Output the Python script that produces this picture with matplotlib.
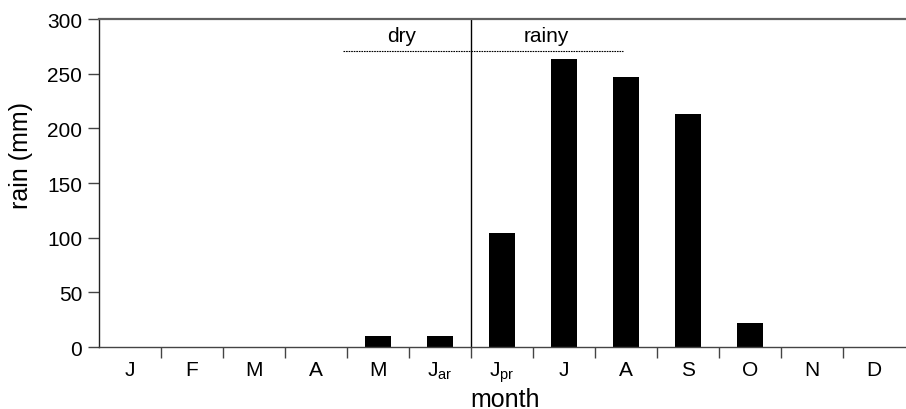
import numpy as np
import matplotlib
matplotlib.use('Agg')
import matplotlib.pyplot as plt

plt.rcParams['font.family'] = ['Liberation Sans', 'DejaVu Sans']
plt.rcParams['mathtext.fontset'] = 'custom'
plt.rcParams['mathtext.rm'] = 'Liberation Sans'

# monthly rain data
months = ['J', 'F', 'M', 'A', 'M', r'J$_{\mathrm{ar}}$', r'J$_{\mathrm{pr}}$',
          'J', 'A', 'S', 'O', 'N', 'D']
rain = [0, 0, 0, 0, 10, 10, 104, 263, 247, 213, 22, 0, 0]

season_labels = ['dry', 'rainy']

fig = plt.figure(figsize=(9.06, 4.10), dpi=100)
ax = fig.add_axes([0.1093, 0.1512, 0.8897, 0.8000])

x = np.arange(len(months))
ax.bar(x, rain, width=0.41, color='black')

ax.set_xlim(-0.5, len(months) - 0.5)
ax.set_ylim(0, 300)
ax.set_yticks([0, 50, 100, 150, 200, 250, 300])

# ticks between categories, labels at centres
ax.set_xticks(np.arange(0.5, len(months) - 0.5, 1))
ax.set_xticklabels([])
ax.set_xticks(x, minor=True)
ax.set_xticklabels(months, minor=True)
ax.tick_params(axis='x', which='minor', length=0, pad=9)
ax.tick_params(axis='x', which='major', length=8, width=1, color='#444444')
ax.tick_params(axis='y', length=8, width=1, color='#444444', pad=4)
ax.tick_params(which='both', labelsize=15)

ax.spines['right'].set_visible(False)
ax.spines['top'].set_color('#606060')
ax.spines['top'].set_linewidth(1.6)
ax.spines['left'].set_color('#222222')
ax.spines['bottom'].set_color('#444444')
ax.spines['left'].set_linewidth(1.0)
ax.spines['bottom'].set_linewidth(1.0)

# season divider
ax.axvline(5.5, color='black', lw=1.0)
ax.plot([3.43, 7.95], [271, 271], color='black', lw=0.8, ls=(0, (1.5, 0.8)))
ax.text(4.38, 276, season_labels[0], ha='center', va='bottom', fontsize=15)
ax.text(6.72, 276, season_labels[1], ha='center', va='bottom', fontsize=15)

ax.set_ylabel('rain (mm)', fontsize=18)
ax.yaxis.set_label_coords(-0.082, 0.588)
ax.set_xlabel('month', fontsize=18)
ax.xaxis.set_label_coords(0.504, -0.122)

fig.savefig('out.png', dpi=100)
